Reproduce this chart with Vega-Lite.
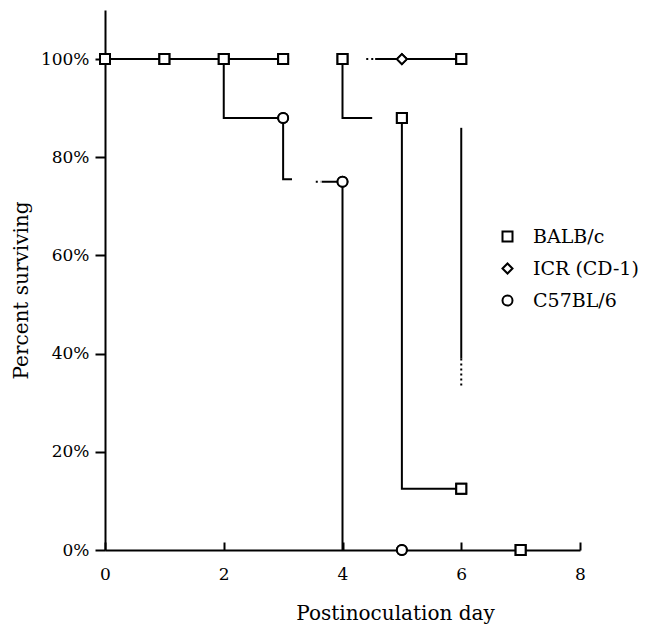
{
  "$schema": "https://vega.github.io/schema/vega-lite/v6.json",
  "autosize": {"type": "none"},
  "padding": {"left": 105, "top": 10, "right": 70, "bottom": 79},
  "width": 475,
  "height": 540,
  "background": "white",
  "config": {
    "view": {"stroke": null},
    "font": "DejaVu Serif",
    "axis": {"grid": false, "domainColor": "black", "tickColor": "black", "domainWidth": 2, "tickWidth": 2, "labelColor": "black", "titleColor": "black", "labelFont": "DejaVu Serif", "titleFont": "DejaVu Serif", "titleFontWeight": "normal"}
  },
  "datasets": {
    "lines": [
      {"seg": "a", "ord": 1, "day": 0, "pct": 100},
      {"seg": "a", "ord": 2, "day": 3.1, "pct": 100},
      {"seg": "b", "ord": 1, "day": 2, "pct": 100},
      {"seg": "b", "ord": 2, "day": 2, "pct": 88},
      {"seg": "b", "ord": 3, "day": 3, "pct": 88},
      {"seg": "b", "ord": 4, "day": 3, "pct": 75.5},
      {"seg": "b", "ord": 5, "day": 3.15, "pct": 75.5},
      {"seg": "c", "ord": 1, "day": 3.65, "pct": 75},
      {"seg": "c", "ord": 2, "day": 4, "pct": 75},
      {"seg": "c", "ord": 3, "day": 4, "pct": 0},
      {"seg": "d", "ord": 1, "day": 4, "pct": 100},
      {"seg": "d", "ord": 2, "day": 4, "pct": 88},
      {"seg": "d", "ord": 3, "day": 4.5, "pct": 88},
      {"seg": "e", "ord": 1, "day": 5, "pct": 88},
      {"seg": "e", "ord": 2, "day": 5, "pct": 12.5},
      {"seg": "e", "ord": 3, "day": 6, "pct": 12.5},
      {"seg": "f", "ord": 1, "day": 4.55, "pct": 100},
      {"seg": "f", "ord": 2, "day": 6, "pct": 100},
      {"seg": "g", "ord": 1, "day": 6, "pct": 86},
      {"seg": "g", "ord": 2, "day": 6, "pct": 39}
    ],
    "dots": [
      {"seg": "d1", "ord": 1, "day": 3.55, "pct": 75},
      {"seg": "d1", "ord": 2, "day": 3.64, "pct": 75},
      {"seg": "d2", "ord": 1, "day": 4.4, "pct": 100},
      {"seg": "d2", "ord": 2, "day": 4.54, "pct": 100},
      {"seg": "d3", "ord": 1, "day": 6, "pct": 39},
      {"seg": "d3", "ord": 2, "day": 6, "pct": 33.5}
    ],
    "points": [
      {"strain": "BALB/c", "day": 0, "pct": 100},
      {"strain": "BALB/c", "day": 1, "pct": 100},
      {"strain": "BALB/c", "day": 2, "pct": 100},
      {"strain": "BALB/c", "day": 3, "pct": 100},
      {"strain": "BALB/c", "day": 4, "pct": 100},
      {"strain": "BALB/c", "day": 6, "pct": 100},
      {"strain": "BALB/c", "day": 5, "pct": 88},
      {"strain": "BALB/c", "day": 6, "pct": 12.5},
      {"strain": "BALB/c", "day": 7, "pct": 0},
      {"strain": "ICR (CD-1)", "day": 5, "pct": 100},
      {"strain": "C57BL/6", "day": 3, "pct": 88},
      {"strain": "C57BL/6", "day": 4, "pct": 75},
      {"strain": "C57BL/6", "day": 5, "pct": 0}
    ]
  },
  "layer": [
    {
      "data": {"name": "points"},
      "mark": {"type": "point", "filled": false, "color": "black", "strokeWidth": 2, "size": 100, "opacity": 1},
      "encoding": {
        "x": {"field": "day", "type": "quantitative", "scale": {"domain": [0, 8]},
          "axis": {"values": [0, 2, 4, 6, 8], "format": "d", "tickSize": -8, "labelPadding": 24, "labelFontSize": 17, "labelFlush": false,
            "title": "Postinoculation day", "titleFontSize": 20, "titleX": 290, "titleY": 69, "titleBaseline": "alphabetic", "titleAlign": "center"}},
        "y": {"field": "pct", "type": "quantitative", "scale": {"domain": [0, 110]},
          "axis": {"values": [0, 20, 40, 60, 80, 100], "tickSize": 10, "labelPadding": 6, "labelFontSize": 17,
            "labelExpr": "datum.value + '%'",
            "title": "Percent surviving", "titleFontSize": 20, "titleX": -84, "titleY": 280, "titleAngle": -90, "titleAlign": "center", "titleBaseline": "middle"}},
        "shape": {"field": "strain", "type": "nominal",
          "scale": {"domain": ["BALB/c", "ICR (CD-1)", "C57BL/6"], "range": ["square", "diamond", "circle"]},
          "legend": {"title": null, "orient": "none", "legendX": 393, "legendY": 217, "rowPadding": 12,
            "labelFontSize": 19, "labelColor": "black", "labelOffset": 16, "symbolStrokeWidth": 2}}
      }
    },
    {
      "data": {"name": "lines"},
      "mark": {"type": "line", "color": "black", "strokeWidth": 2},
      "encoding": {
        "x": {"field": "day", "type": "quantitative"},
        "y": {"field": "pct", "type": "quantitative"},
        "detail": {"field": "seg"},
        "order": {"field": "ord"}
      }
    },
    {
      "data": {"name": "dots"},
      "mark": {"type": "line", "color": "black", "strokeWidth": 2, "strokeDash": [2, 3]},
      "encoding": {
        "x": {"field": "day", "type": "quantitative"},
        "y": {"field": "pct", "type": "quantitative"},
        "detail": {"field": "seg"},
        "order": {"field": "ord"}
      }
    },
    {
      "data": {"name": "points"},
      "transform": [{"filter": {"field": "strain", "equal": "BALB/c"}}],
      "mark": {"type": "point", "shape": "square", "filled": true, "fill": "white", "stroke": "black", "strokeWidth": 2, "size": 100, "opacity": 1},
      "encoding": {
        "x": {"field": "day", "type": "quantitative"},
        "y": {"field": "pct", "type": "quantitative"}
      }
    },
    {
      "data": {"name": "points"},
      "transform": [{"filter": {"field": "strain", "equal": "ICR (CD-1)"}}],
      "mark": {"type": "point", "shape": "diamond", "filled": true, "fill": "white", "stroke": "black", "strokeWidth": 2, "size": 100, "opacity": 1},
      "encoding": {
        "x": {"field": "day", "type": "quantitative"},
        "y": {"field": "pct", "type": "quantitative"}
      }
    },
    {
      "data": {"name": "points"},
      "transform": [{"filter": {"field": "strain", "equal": "C57BL/6"}}],
      "mark": {"type": "point", "shape": "circle", "filled": true, "fill": "white", "stroke": "black", "strokeWidth": 2, "size": 100, "opacity": 1},
      "encoding": {
        "x": {"field": "day", "type": "quantitative"},
        "y": {"field": "pct", "type": "quantitative"}
      }
    }
  ]
}
